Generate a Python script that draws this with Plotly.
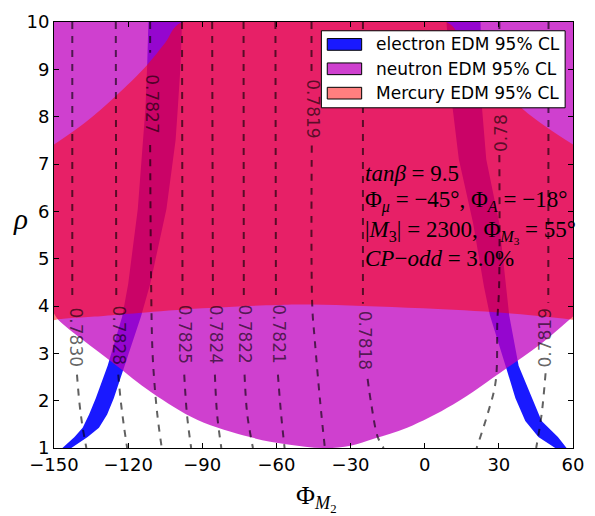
import plotly.graph_objects as go

# ---------------- data ----------------
PHI_TICKS = [-150, -120, -90, -60, -30, 0, 30, 60]
RHO_TICKS = [1, 2, 3, 4, 5, 6, 7, 8, 9, 10]

# electron EDM 95% CL: two narrow bands, each given by its low-phi and high-phi edge
E_LEFT_RHO = [1.0, 1.23, 1.43, 1.71, 2.05, 2.40, 2.74, 3.78, 4.46, 6.05, 7.5, 8.18, 9.08, 10.0]
E_LEFT_PHI_LO = [-146.6, -141.7, -138.4, -135.8, -133.1, -130.5, -128.3, -122.4, -120.0, -116.1, -114.0, -113.0, -112.3, -111.8]
E_LEFT_PHI_HI = [-143.0, -136.4, -131.8, -128.5, -125.8, -123.6, -121.5, -114.8, -111.1, -104.5, -100.8, -99.9, -98.8, -98.2]
E_RIGHT_RHO = [1.0, 1.23, 1.57, 2.05, 2.74, 3.8, 4.4, 5.77, 7.1, 8.18, 10.0]
E_RIGHT_PHI_LO = [52.8, 46.0, 40.7, 36.7, 32.7, 26.4, 24.0, 19.5, 13.8, 11.3, 8.8]
E_RIGHT_PHI_HI = [57.4, 53.9, 47.3, 43.3, 38.0, 34.2, 32.8, 30.1, 24.9, 23.2, 22.6]

# neutron EDM 95% CL: allowed above this lower boundary
N_LOW_PHI = [-150, -148.3, -138.3, -125.7, -110.5, -91.9, -70.7, -56.1, -41, -30, -20.3, -7.1, 11.5, 32.7, 46.0, 60]
N_LOW_RHO = [3.84, 3.71, 3.28, 2.78, 2.17, 1.59, 1.23, 1.08, 1.0, 1.05, 1.2, 1.43, 1.92, 2.67, 3.16, 3.78]
N_TOP_PHI = [-150, 60]
N_TOP_RHO = [10, 10]

# Mercury EDM 95% CL: between a lower boundary and an upper (corner-cutting) boundary
HG_LOW_PHI = [-150, -148.4, -130, -115.8, -90, -60, -46, -25, -0.6, 32.7, 60]
HG_LOW_RHO = [3.70, 3.72, 3.79, 3.85, 3.95, 4.02, 4.03, 4.0, 3.95, 3.85, 3.71]
HG_TOP_PHI = [-150, -137.5, -125.1, -112.5, -105, -98.2, 8.8, 15, 22.8, 30, 39.3, 49.5, 60]
HG_TOP_RHO = [7.41, 7.87, 8.43, 9.08, 9.56, 10, 10, 9.60, 9.1, 8.68, 8.18, 7.77, 7.41]

# dashed iso-contours (None = break for the inline label)
CONTOUR_RHO = [
    [10, 4.15, None, 2.55, 2.0, 1.5, 1.0],
    [10, 4.15, None, 2.55, 2.0, 1.5, 1.0],
    [10, 9.35, None, 7.4, 4.46, 3.1, 2.4, 1.71, 1.0],
    [10, 4.15, None, 2.55, 1.71, 1.0],
    [10, 4.15, None, 2.55, 1.71, 1.0],
    [10, 4.15, None, 2.55, 1.71, 1.0],
    [10, 4.15, None, 2.55, 1.71, 1.0],
    [10, 8.92, None, 7.39, 4.0, 3.29, 1.92, 1.0],
    [10, 4.05, None, 2.46, 1.92, 1.23, 1.0],
    [10, 8.74, None, 7.19, 4.4, 3.7, 2.4, 1.71, 1.0],
    [10, 4.07, None, 2.58, 1.71, 1.0],
]
CONTOUR_PHI = [
    [-142.6, -142.6, None, -140.7, -139.8, -138.6, -136.9],
    [-125.0, -124.8, None, -124.0, -123.0, -121.8, -120.4],
    [-111.1, -111.1, None, -111.1, -110.7, -110.2, -109.4, -108.2, -106.4],
    [-98.2, -98.0, None, -97.3, -96.2, -94.5],
    [-86.0, -85.7, None, -84.9, -84.0, -82.3],
    [-73.3, -73.2, None, -72.9, -71.8, -69.5],
    [-60.4, -60.2, None, -59.4, -58.1, -56.7],
    [-45.8, -45.8, None, -45.7, -45.5, -44.5, -42.2, -40.4],
    [-25.0, -25.0, None, -23.1, -21.6, -19.0, -16.6],
    [30.2, 30.2, None, 30.2, 30.1, 29.4, 28.7, 25.4, 21.0],
    [50.1, 50.0, None, 48.9, 47.3, 45.1],
]
LABEL_TEXT = ["0.7830", "0.7828", "0.7827", "0.7825", "0.7824", "0.7822",
              "0.7821", "0.7819", "0.7818", "0.78", "0.7819"]
LABEL_PHI = [-141.0, -123.8, -110.5, -97.1, -84.6, -72.7, -59.3, -45.2, -23.8, 30.6, 48.6]
LABEL_RHO = [3.35, 3.38, 8.27, 3.40, 3.40, 3.42, 3.42, 8.18, 3.27, 7.66, 3.33]
LABEL_ANGLE = [90, 90, 90, 90, 90, 90, 90, 90, 90, -90, -90]

LEGEND_TEXT = ["electron EDM 95% CL", "neutron EDM 95% CL", "Mercury EDM 95% CL"]
INFO_LINES = [
    "<i>tanβ</i> = 9.5",
    "Φ<sub><i>μ</i></sub> = −45°, Φ<sub><i>A</i></sub> = −18°",
    "|<i>M</i><sub>3</sub>| = 2300, Φ<sub><i>M</i><sub>3</sub></sub> = 55°",
    "<i>CP</i>−<i>odd</i> = 3.0%",
]

# ---------------- style ----------------
W, H = 595, 516
ML, MR, MT, MB = 54, 13, 11, 68
PW, PH = W - ML - MR, H - MT - MB

BLUE = "rgba(0,0,255,0.9)"
MAGENTA = "rgba(191,0,191,0.75)"
RED = "rgba(255,0,0,0.5)"
CONTOUR_COLOR = "rgba(0,0,0,0.62)"
SANS = "DejaVu Sans"
SERIF = "Liberation Serif"


def px_x(px):
    return (px - ML) / PW


def px_y(py):
    return (MT + PH - py) / PH


fig = go.Figure()
nofill = dict(mode="lines", line=dict(width=0, shape="spline"), hoverinfo="skip", showlegend=False)

# electron bands (drawn first, lowest layer): closed outline = low edge up, high edge down
for rho, lo, hi in [(E_LEFT_RHO, E_LEFT_PHI_LO, E_LEFT_PHI_HI),
                    (E_RIGHT_RHO, E_RIGHT_PHI_LO, E_RIGHT_PHI_HI)]:
    fig.add_trace(go.Scatter(
        x=lo + hi[::-1], y=rho + rho[::-1], mode="lines", fill="toself", fillcolor=BLUE,
        line=dict(width=0), hoverinfo="skip", showlegend=False,
    ))

# neutron region
fig.add_trace(go.Scatter(x=N_LOW_PHI, y=N_LOW_RHO, **nofill))
fig.add_trace(go.Scatter(x=N_TOP_PHI, y=N_TOP_RHO, fill="tonexty", fillcolor=MAGENTA, **nofill))

# Mercury region
fig.add_trace(go.Scatter(x=HG_LOW_PHI, y=HG_LOW_RHO, **nofill))
fig.add_trace(go.Scatter(x=HG_TOP_PHI, y=HG_TOP_RHO, fill="tonexty", fillcolor=RED, **nofill))

# dashed contours
for phi, rho in zip(CONTOUR_PHI, CONTOUR_RHO):
    fig.add_trace(go.Scatter(
        x=phi, y=rho, mode="lines", hoverinfo="skip", showlegend=False,
        line=dict(color=CONTOUR_COLOR, width=2, dash="7px,7px", shape="spline"),
        connectgaps=False,
    ))

annotations = []
for txt, phi, rho, ang in zip(LABEL_TEXT, LABEL_PHI, LABEL_RHO, LABEL_ANGLE):
    annotations.append(dict(
        x=phi, y=rho, xref="x", yref="y", text=txt, textangle=ang, showarrow=False,
        xanchor="center", yanchor="middle",
        font=dict(family=SANS, size=17, color=CONTOUR_COLOR),
    ))

# parameter block
for line, yc in zip(INFO_LINES, [166, 195, 226, 254]):
    annotations.append(dict(
        x=px_x(368), y=px_y(yc), xref="paper", yref="paper",
        text=line, showarrow=False, xanchor="left", yanchor="middle",
        font=dict(family=SERIF, size=23, color="black"),
    ))

# axis titles
annotations.append(dict(x=px_x(20), y=px_y(213), xref="paper", yref="paper", text="<i>ρ</i>",
                        xanchor="center", yanchor="middle",
                        showarrow=False, font=dict(family=SERIF, size=29, color="black")))
annotations.append(dict(x=px_x(321), y=px_y(520), xref="paper", yref="paper",
                        text="Φ<sub><i>M</i><sub>2</sub></sub>", xanchor="center", yanchor="bottom",
                        showarrow=False, font=dict(family=SERIF, size=26, color="black")))

# legend box
shapes = [dict(type="rect", xref="paper", yref="paper", layer="above",
               x0=px_x(326), x1=px_x(574), y0=px_y(99), y1=px_y(20),
               fillcolor="white", line=dict(color="black", width=1))]
for i, (txt, col) in enumerate(zip(LEGEND_TEXT, [BLUE, MAGENTA, RED])):
    yc = 34 + 25 * i
    shapes.append(dict(type="rect", xref="paper", yref="paper", layer="above",
                       x0=px_x(332), x1=px_x(367), y0=px_y(yc + 6), y1=px_y(yc - 6),
                       fillcolor=col, line=dict(color="black", width=1)))
    annotations.append(dict(x=px_x(380), y=px_y(yc), xref="paper", yref="paper", text=txt,
                            showarrow=False, xanchor="left", yanchor="middle",
                            font=dict(family=SANS, size=17, color="black")))

axis_common = dict(
    showgrid=False, zeroline=False, showline=True, linecolor="black", linewidth=1,
    mirror="allticks", ticks="inside", ticklen=5, tickwidth=1, tickcolor="black",
    tickfont=dict(family=SANS, size=18, color="black"),
)
fig.update_layout(
    width=W, height=H, margin=dict(l=ML, r=MR, t=MT, b=MB),
    paper_bgcolor="white", plot_bgcolor="white", showlegend=False,
    xaxis=dict(range=[-150, 60], tickvals=PHI_TICKS, **axis_common),
    yaxis=dict(range=[1, 10], tickvals=RHO_TICKS, **axis_common),
    annotations=annotations, shapes=shapes,
)

fig.write_html("out.html")
